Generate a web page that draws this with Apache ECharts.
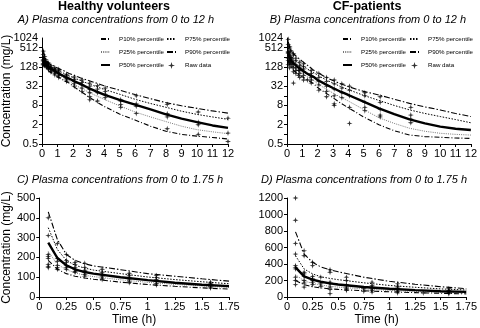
<!DOCTYPE html>
<html><head><meta charset="utf-8">
<script src="https://cdn.jsdelivr.net/npm/echarts@6/dist/echarts.min.js"></script>
<style>html,body{margin:0;padding:0;background:#fff}#c{width:480px;height:328px}</style>
</head><body><div id="c"></div>
<script>
// time points of the model percentile curves (h)
const times = [0.083,0.167,0.25,0.33,0.42,0.5,0.75,1,1.25,1.5,1.75,2,2.5,3,3.5,4,5,6,7,8,9,10,11,12];
// Healthy volunteers percentiles (mg/L)
const hvP10 = [185,140,118,105,96,90,75,63,54,46,40,32,22,15,10.5,7.5,4.3,2.8,1.8,1.25,1.0,0.88,0.8,0.72];
const hvP25 = [230,165,138,122,110,103,87,74,64,56,48,38,28,21,16,12.5,7.8,5,3.5,2.5,1.8,1.4,1.2,1.05];
const hvP50 = [275,197,160,140,126,118,100,85,72,62,55,48,37,28,22,17.5,12,8.5,6,4.2,3.1,2.4,1.9,1.6];
const hvP75 = [350,240,185,160,146,136,118,101,88,77,67,60,48,38,31,25.5,18,12.5,9.2,7,5.3,4.2,3.5,2.95];
const hvP90 = [430,290,215,185,168,157,138,118,105,92,80,72,58,48,40,33,24,17.5,13,9.8,7.8,6.5,5.4,4.6];
// CF-patients percentiles (mg/L)
const cfP10 = [200,150,125,110,100,92,75,63,53,45,38,29,20,14,9.5,6.8,3.5,2.0,1.3,0.95,0.85,0.81,0.77,0.75];
const cfP25 = [270,195,165,145,130,120,97,80,66,56,48,38,27,19.5,14.5,11,6,3.3,2.2,1.55,1.25,1.08,1.0,0.95];
const cfP50 = [360,250,210,185,165,152,122,100,83,70,62,50,37,28,21.5,17,10.5,6.5,4.3,2.95,2.2,1.74,1.5,1.37];
const cfP75 = [500,340,280,245,225,210,172,140,118,98,85,70,52,40,31,25,16.5,11.5,8,5.8,4.5,3.6,2.9,2.3];
const cfP90 = [790,520,420,365,330,305,240,190,155,125,100,85,62,48,38,31,22,17,12.5,9.3,7.2,5.8,4.5,3.6];
// raw observations [time h, concentration mg/L]
const hvRaw = [
 [0.083,400],[0.083,310],[0.083,215],[0.083,205],[0.083,195],[0.083,165],[0.083,155],[0.083,148],
 [0.167,270],[0.167,195],[0.167,180],[0.167,160],[0.167,148],[0.167,140],
 [0.25,215],[0.25,185],[0.25,175],[0.25,160],[0.25,150],[0.25,140],
 [0.33,175],[0.33,165],[0.33,150],[0.33,140],[0.33,130],[0.33,125],
 [0.42,170],[0.42,150],[0.42,135],[0.42,125],[0.42,115],[0.42,105],
 [0.58,140],[0.58,125],[0.58,115],[0.58,105],[0.58,95],[0.58,88],
 [0.83,120],[0.83,110],[0.83,100],[0.83,90],[0.83,80],[0.83,72],
 [1.08,108],[1.08,98],[1.08,88],[1.08,78],[1.08,68],[1.08,60],
 [1.58,75],[1.58,68],[1.58,62],[1.58,56],[1.58,50],[1.58,45],
 [2.08,62],[2.08,52],[2.08,45],[2.08,38],[2.08,32],
 [2.58,50],[2.58,42],[2.58,35],[2.58,28],[2.58,22],
 [3.08,40],[3.08,32],[3.08,25],[3.08,20],[3.08,15],[3.08,12],
 [3.58,33],[3.58,26],[3.58,20],[3.58,11],
 [4.08,28],[4.08,22],[4.08,18],[4.08,14],
 [5.08,12],[5.08,11],[5.08,8.5],[5.08,7],
 [6.08,16],[6.08,9],[6.08,7.5],[6.08,4.5],
 [8.08,8.6],[8.08,4.4],[8.08,3.5],[8.08,1.5],
 [10.08,5],[10.08,2.4],[10.08,2],[10.08,1],
 [12,3.2],[12,1.1],[12,0.6]
];
const cfRaw = [
 [0.083,1200],[0.083,930],[0.083,650],[0.083,520],[0.083,380],[0.083,360],[0.083,340],[0.083,240],[0.083,200],[0.083,150],
 [0.167,560],[0.167,500],[0.167,300],[0.167,280],[0.167,250],[0.167,200],[0.167,170],[0.167,120],
 [0.25,420],[0.25,380],[0.25,250],[0.25,220],[0.25,200],[0.25,180],[0.25,150],
 [0.33,240],[0.33,160],[0.33,130],
 [0.42,330],[0.42,300],[0.42,180],[0.42,160],[0.42,120],[0.42,90],[0.42,40],
 [0.58,240],[0.58,200],[0.58,150],[0.58,120],[0.58,100],[0.58,80],
 [0.75,100],[0.75,70],
 [0.83,180],[0.83,140],[0.83,120],[0.83,100],[0.83,80],[0.83,60],
 [1.08,160],[1.08,130],[1.08,110],[1.08,90],[1.08,70],[1.08,50],
 [1.33,50],
 [1.58,100],[1.58,80],[1.58,70],[1.58,60],[1.58,50],[1.58,40],
 [2.08,80],[2.08,60],[2.08,45],[2.08,35],[2.08,24],
 [2.58,60],[2.58,45],[2.58,32],[2.58,22],[2.58,15],
 [3.08,50],[3.08,38],[3.08,26],[3.08,16],[3.08,9],[3.08,8],
 [3.58,38],[3.58,28],[3.58,20],[3.58,14],
 [4.08,32],[4.08,24],[4.08,16],[4.08,7],[4.08,2.2],
 [5.08,20],[5.08,16],[5.08,10],[5.08,7],[5.08,5.5],
 [6.08,15],[6.08,10],[6.08,6],[6.08,4],[6.08,3.5],
 [8.08,7],[8.08,4],[8.08,3],[8.08,2.3]
];
const pctNames = ['P10% percentile','P25% percentile','P50% percentile','P75% percentile','P90% percentile'];
const rawName = 'Raw data';

const lineStyles = [
 {color:'#000', width:1.1, type:[5,2,1,2]},
 {color:'#777', width:1, type:[1,1.2]},
 {color:'#000', width:2.4, type:'solid'},
 {color:'#000', width:1, type:[1.5,1.5]},
 {color:'#000', width:1.1, type:[6,2,1.5,2]}
];
const star = 'path://M5,0 L6.1,3.9 L10,5 L6.1,6.1 L5,10 L3.9,6.1 L0,5 L3.9,3.9 Z';
const FONT = 'Liberation Sans, Arial, sans-serif';

function lines(gi, sets, tMax) {
  return sets.map((arr, k) => ({
    name: pctNames[k], type:'line', xAxisIndex:gi, yAxisIndex:gi,
    symbol:'none', silent:true, animation:false, z: k===2?4:3,
    lineStyle: lineStyles[k], itemStyle:{color: lineStyles[k].color},
    data: times.map((t,i)=>[t, arr[i]]).filter(d=>d[0] <= tMax)
  }));
}
function raw(gi, arr, tMax) {
  return {name: rawName, type:'scatter', xAxisIndex:gi, yAxisIndex:gi, symbol:star, symbolSize:6,
    itemStyle:{color:'#000'}, animation:false, z:5,
    data: arr.filter(d=>d[0] <= tMax)};
}
const axisCommon = {
  axisLine:{show:true, onZero:false, lineStyle:{color:'#000', width:1}},
  axisTick:{show:true, inside:false, length:3, lineStyle:{color:'#000'}},
  axisLabel:{color:'#000', fontSize:11, fontFamily:FONT, margin:4, showMaxLabel:true, showMinLabel:true, hideOverlap:false, formatter: v => String(v)},
  splitLine:{show:false}
};
const lg2 = v => Math.round(Math.log2(v));
// main log axis labels: every second doubling (0.5 ... 512)
function logFmt(v){ const e = lg2(v); return (e % 2 !== 0 && e < 10) ? String(Math.round(v*1000)/1000) : ''; }
// companion label axis: only the top value (1024)
function topFmt(v){ return lg2(v) === 10 ? String(Math.round(v)) : ''; }
const logLabel = Object.assign({}, axisCommon.axisLabel, {formatter:logFmt, showMaxLabel:false});
const topLabel = Object.assign({}, axisCommon.axisLabel, {formatter:topFmt, showMaxLabel:true, showMinLabel:false});
const yName = {name:'Concentration (mg/L)', nameLocation:'middle', nameTextStyle:{fontSize:12, fontFamily:FONT, color:'#000'}};
const legendItem = n => n === rawName ? {name:n} : {name:n, itemStyle:{opacity:0}};
const topAxis = gi => ({gridIndex:gi, type:'log', logBase:2, min:0.5, max:1024, interval:1, position:'left', offset:0,
  axisLine:{show:false}, axisTick:{show:false}, splitLine:{show:false}, axisLabel:topLabel});

const option = {
  backgroundColor:'#fff',
  animation:false,
  title: [
    {text:'Healthy volunteers', left:114, top:0, textAlign:'center', padding:0, textStyle:{fontSize:12.5, fontWeight:'bold', fontFamily:FONT, color:'#000'}},
    {text:'CF-patients', left:367, top:0, textAlign:'center', padding:0, textStyle:{fontSize:12.5, fontWeight:'bold', fontFamily:FONT, color:'#000'}},
    {text:'A) Plasma concentrations from 0 to 12 h', left:116, top:14, textAlign:'center', padding:0, textStyle:{fontSize:11, fontStyle:'italic', fontWeight:'normal', fontFamily:FONT, color:'#000'}},
    {text:'B) Plasma concentrations from 0 to 12 h', left:368, top:14, textAlign:'center', padding:0, textStyle:{fontSize:11, fontStyle:'italic', fontWeight:'normal', fontFamily:FONT, color:'#000'}},
    {text:'C) Plasma concentrations from 0 to 1.75 h', left:120, top:174, textAlign:'center', padding:0, textStyle:{fontSize:11, fontStyle:'italic', fontWeight:'normal', fontFamily:FONT, color:'#000'}},
    {text:'D) Plasma concentrations from 0 to 1.75 h', left:364, top:174, textAlign:'center', padding:0, textStyle:{fontSize:11, fontStyle:'italic', fontWeight:'normal', fontFamily:FONT, color:'#000'}}
  ],
  legend: [
    {left:100, top:36}, {left:166, top:36}, {left:342, top:36}, {left:409, top:36}
  ].map((p, i) => Object.assign({
    orient:'vertical', padding:0, itemGap:7, itemWidth:9, itemHeight:7, selectedMode:false,
    textStyle:{fontSize:6.2, fontFamily:FONT, color:'#000', padding:[0,0,0,4]},
    data: ((i % 2 === 0) ? pctNames.slice(0,3) : [pctNames[3], pctNames[4], rawName]).map(legendItem)
  }, p)),
  grid: [
    {left:42, top:38, width:186, height:106},
    {left:287, top:38, width:184, height:106},
    {left:35, top:198, width:194, height:99},
    {left:287, top:198, width:183, height:99}
  ],
  xAxis: [
    Object.assign({gridIndex:0, type:'value', min:0, max:12, interval:1}, axisCommon),
    Object.assign({gridIndex:1, type:'value', min:0, max:12, interval:1}, axisCommon),
    Object.assign({gridIndex:2, type:'value', min:0, max:1.75, interval:0.25, name:'Time (h)', nameLocation:'middle', nameGap:17, nameTextStyle:{fontSize:12, fontFamily:FONT, color:'#000'}}, axisCommon),
    Object.assign({gridIndex:3, type:'value', min:0, max:1.75, interval:0.25, name:'Time (h)', nameLocation:'middle', nameGap:17, nameTextStyle:{fontSize:12, fontFamily:FONT, color:'#000'}}, axisCommon)
  ],
  yAxis: [
    Object.assign({gridIndex:0, type:'log', logBase:2, min:0.5, max:1024, interval:1, position:'left', nameGap:29}, axisCommon, yName, {axisLabel:logLabel}),
    Object.assign({gridIndex:1, type:'log', logBase:2, min:0.5, max:1024, interval:1, position:'left'}, axisCommon, {axisLabel:logLabel}),
    Object.assign({gridIndex:2, type:'value', min:0, max:500, interval:100, nameGap:24}, axisCommon, yName),
    Object.assign({gridIndex:3, type:'value', min:0, max:1200, interval:200}, axisCommon),
    topAxis(0),
    topAxis(1)
  ],
  series: [].concat(
    lines(0, [hvP10,hvP25,hvP50,hvP75,hvP90], 12), [raw(0, hvRaw, 12)],
    lines(1, [cfP10,cfP25,cfP50,cfP75,cfP90], 12), [raw(1, cfRaw, 12)],
    lines(2, [hvP10,hvP25,hvP50,hvP75,hvP90], 1.75), [raw(2, hvRaw, 1.75)],
    lines(3, [cfP10,cfP25,cfP50,cfP75,cfP90], 1.75), [raw(3, cfRaw, 1.75)]
  )
};
const chart = echarts.init(document.getElementById('c'), null, {renderer:'canvas'});
chart.setOption(option);
</script>
</body></html>
